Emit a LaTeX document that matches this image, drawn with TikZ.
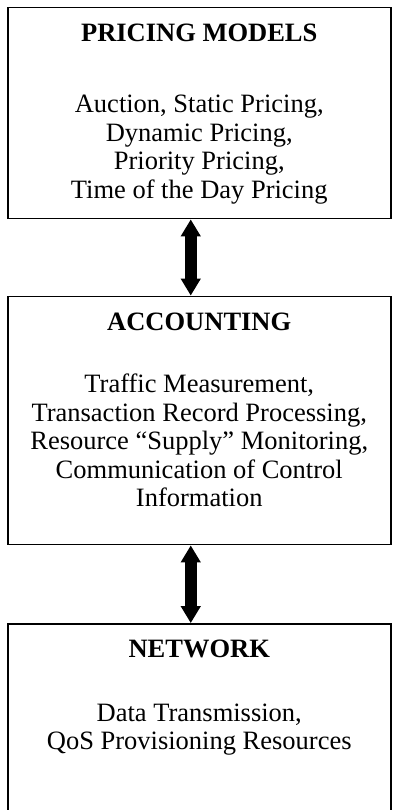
\documentclass[tikz,border=0pt]{standalone}
\usepackage{fontspec}
\setmainfont{Liberation Serif}
\usetikzlibrary{arrows.meta,positioning}
\begin{document}
\begin{tikzpicture}[x=1pt, y=-1pt,
                layer/.style={draw, line width=1.8pt, minimum width=383pt, inner sep=0pt},
                heading/.style={font=\fontsize{26.5}{28.5}\selectfont\bfseries, inner sep=0pt},
                items/.style={font=\fontsize{26.5}{28.5}\selectfont, align=center, inner sep=0pt},
                link/.style={line width=12pt, {Triangle[length=17pt, width=19pt]}-{Triangle[length=17pt, width=19pt]}}]
                \useasboundingbox (0, 0) rectangle (392, 810);
                \clip (0, 0) rectangle (392, 810);
                \node (pricing) at (199.25, 113) [layer, minimum height=211pt] {};
                \node (accounting) at (199.25, 420.5) [layer, minimum height=248pt] {};
                \node (network) at (199.25, 724) [layer, minimum height=200pt] {};
                \node (pricingtitle) [heading, below=17pt of pricing.north] {PRICING MODELS};
                \node (pricingitems) [items, below=53pt of pricingtitle] {Auction, Static Pricing,\\ Dynamic Pricing,\\ Priority Pricing,\\ Time of the Day Pricing};
                \node (accountingtitle) [heading, below=17pt of accounting.north] {ACCOUNTING};
                \node (accountingitems) [items, below=43pt of accountingtitle] {Traffic Measurement,\\ Transaction Record Processing,\\ Resource “Supply” Monitoring,\\ Communication of Control\\ Information};
                \node (networktitle) [heading, below=17pt of network.north] {NETWORK};
                \node (networkitems) [items, below=45pt of networktitle] {Data Transmission,\\ QoS Provisioning Resources};
                \draw [link] ([xshift=-8.5pt]pricing.south) -- ([xshift=-8.5pt]accounting.north);
                \draw [link] ([xshift=-8.5pt]accounting.south) -- ([xshift=-8.5pt]network.north);
\end{tikzpicture}
\end{document}
